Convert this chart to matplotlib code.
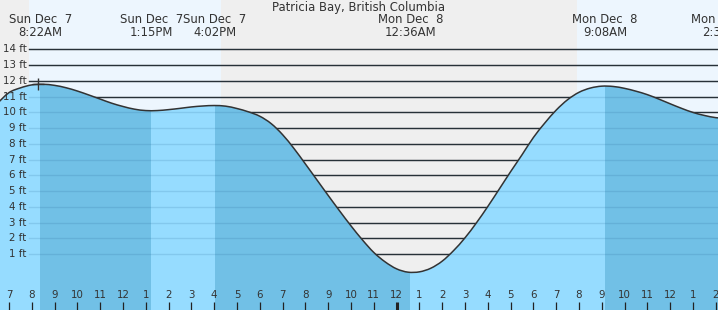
import numpy as np
import matplotlib
matplotlib.use("Agg")
import matplotlib.pyplot as plt
import matplotlib.transforms as mtransforms
from matplotlib.path import Path
from matplotlib.patches import PathPatch

# ---------------- data (hours since Sun Dec 7 00:00, feet) ----------------
TITLE = "Patricia Bay, British Columbia"

TIDE_T = np.arange(6.5, 38.51, 0.5)
TIDE_H = [10.58, 11.25, 11.55, 11.74, 11.78, 11.71, 11.56, 11.35, 11.10, 10.84,
          10.58, 10.37, 10.20, 10.11, 10.11, 10.17, 10.25, 10.34, 10.40, 10.43,
          10.39, 10.24, 10.03, 9.75, 9.28, 8.58, 7.70, 6.72, 5.72, 4.72,
          3.74, 2.79, 1.90, 1.10, 0.50, 0.06, -0.15, -0.13, 0.10, 0.55,
          1.22, 2.03, 2.98, 4.02, 5.12, 6.23, 7.30, 8.40, 9.32, 10.14,
          10.80, 11.27, 11.54, 11.66, 11.64, 11.52, 11.34, 11.12, 10.84, 10.54,
          10.25, 9.99, 9.80, 9.66, 9.60]

EXT_T = [8.367, 13.25, 16.033, 24.6, 33.133, 38.35]
EXT_H = [11.78, 10.10, 10.43, -0.17, 11.67, 9.60]
EXT_DAY = ["Sun Dec  7", "Sun Dec  7", "Sun Dec  7", "Mon Dec  8", "Mon Dec  8", "Mon Dec  8"]
EXT_TIME = ["8:22AM", "1:15PM", "4:02PM", "12:36AM", "9:08AM", "2:31PM"]

SUNRISE = [7.88, 31.91]
SUNSET = [16.30, 40.3]

NOW_T, NOW_H = 8.26, 11.78

FT_LEVELS = list(range(1, 15))
HOUR_TICKS = list(range(7, 39))
HOUR_LABELS = [str((h - 1) % 12 + 1) for h in HOUR_TICKS]
MIDNIGHT = 24

# ---------------- layout ----------------
W, H = 718, 310
PX_H = 22.8          # pixels per hour
X7 = 9.0             # pixel of 7 AM
Y0 = 269.8           # pixel of 0 ft
PX_FT = 15.75

XMIN = 7 - X7 / PX_H
XMAX = 7 + (W - X7) / PX_H
YMIN = (Y0 - H) / PX_FT
YMAX = Y0 / PX_FT

C_TEXT = "#333333"
C_NIGHT = "#efefef"
C_DAY = "#edf6fe"
C_LIGHT = "#96dcff"
C_DARK = "#71c0e6"

fig = plt.figure(figsize=(W / 100, H / 100), dpi=100)
ax = fig.add_axes([0, 0, 1, 1])
ax.set_xlim(XMIN, XMAX)
ax.set_ylim(YMIN, YMAX)
ax.set_axis_off()
ax.add_patch(plt.Rectangle((0, 0), 1, 1, transform=ax.transAxes,
                           color=C_NIGHT, zorder=0))
for a, b in zip(SUNRISE, SUNSET):
    ax.axvspan(a, b, color=C_DAY, lw=0, zorder=0.5)

# black level lines (on background)
xfrac = 29 / W
for lv in FT_LEVELS:
    ax.axhline(lv, xmin=xfrac, xmax=1, color="#2a2a2a", lw=1.0, zorder=1)

# smooth curve through the read points (Catmull-Rom drawn as Bezier path)
pts = np.column_stack([np.asarray(TIDE_T, float), np.asarray(TIDE_H, float)])
n = len(pts)
verts = [pts[0]]
codes = [Path.MOVETO]
for i in range(n - 1):
    p0 = pts[max(i - 1, 0)]
    p1 = pts[i]
    p2 = pts[i + 1]
    p3 = pts[min(i + 2, n - 1)]
    verts += [p1 + (p2 - p0) / 6.0, p2 - (p3 - p1) / 6.0, p2]
    codes += [Path.CURVE4] * 3
curve_path = Path(verts, codes)
water_path = Path(verts + [(pts[-1, 0], YMIN), (pts[0, 0], YMIN), pts[0]],
                  codes + [Path.LINETO, Path.LINETO, Path.CLOSEPOLY])

ax.add_patch(PathPatch(water_path, facecolor=C_LIGHT, lw=0, zorder=2))

# falling-tide darker bands
for i in range(len(EXT_T) - 1):
    if EXT_H[i] > EXT_H[i + 1]:
        sp = ax.axvspan(EXT_T[i], EXT_T[i + 1], color=C_DARK, lw=0, zorder=2.5)
        sp.set_clip_path(water_path, transform=ax.transData)

# level lines through water (subtle)
for lv in FT_LEVELS:
    ax.axhline(lv, xmin=xfrac, xmax=1, color="#1a5a8a", alpha=0.15, lw=1.0, zorder=3)

# curve
ax.add_patch(PathPatch(curve_path, facecolor="none", edgecolor="#333333",
                       lw=1.1, zorder=4))
ax.plot([NOW_T], [NOW_H], marker="+", ms=8, mew=1.0, color="#333333", zorder=5)

# y labels
ty = mtransforms.blended_transform_factory(ax.transAxes, ax.transData)
for lv in FT_LEVELS:
    ax.text(26.5 / W, lv, f"{lv} ft", transform=ty, ha="right", va="center",
            fontsize=7.4, color=C_TEXT, zorder=6)

# hour ticks and labels
tx = mtransforms.blended_transform_factory(ax.transData, ax.transAxes)
for h, lab in zip(HOUR_TICKS, HOUR_LABELS):
    ax.text(h, 1 - 295.5 / H, lab, transform=tx, ha="center", va="center",
            fontsize=7.4, color=C_TEXT, zorder=6)
    ax.plot([h, h], [0, 1 - 302 / H], transform=tx, color="#222222",
            lw=2.2 if h == MIDNIGHT else 0.9, zorder=6, solid_capstyle="butt")

# title and extreme labels
fig.text(0.5, 1 - 7.5 / H, TITLE, ha="center", va="center", fontsize=8.4, color=C_TEXT)
for t, d, s in zip(EXT_T, EXT_DAY, EXT_TIME):
    xf = (X7 + (t - 7) * PX_H) / W
    fig.text(xf, 1 - 19.8 / H, d, ha="center", va="center", fontsize=8.4, color=C_TEXT)
    fig.text(xf, 1 - 32.0 / H, s, ha="center", va="center", fontsize=8.4, color=C_TEXT)

fig.savefig("out.png", dpi=100)
